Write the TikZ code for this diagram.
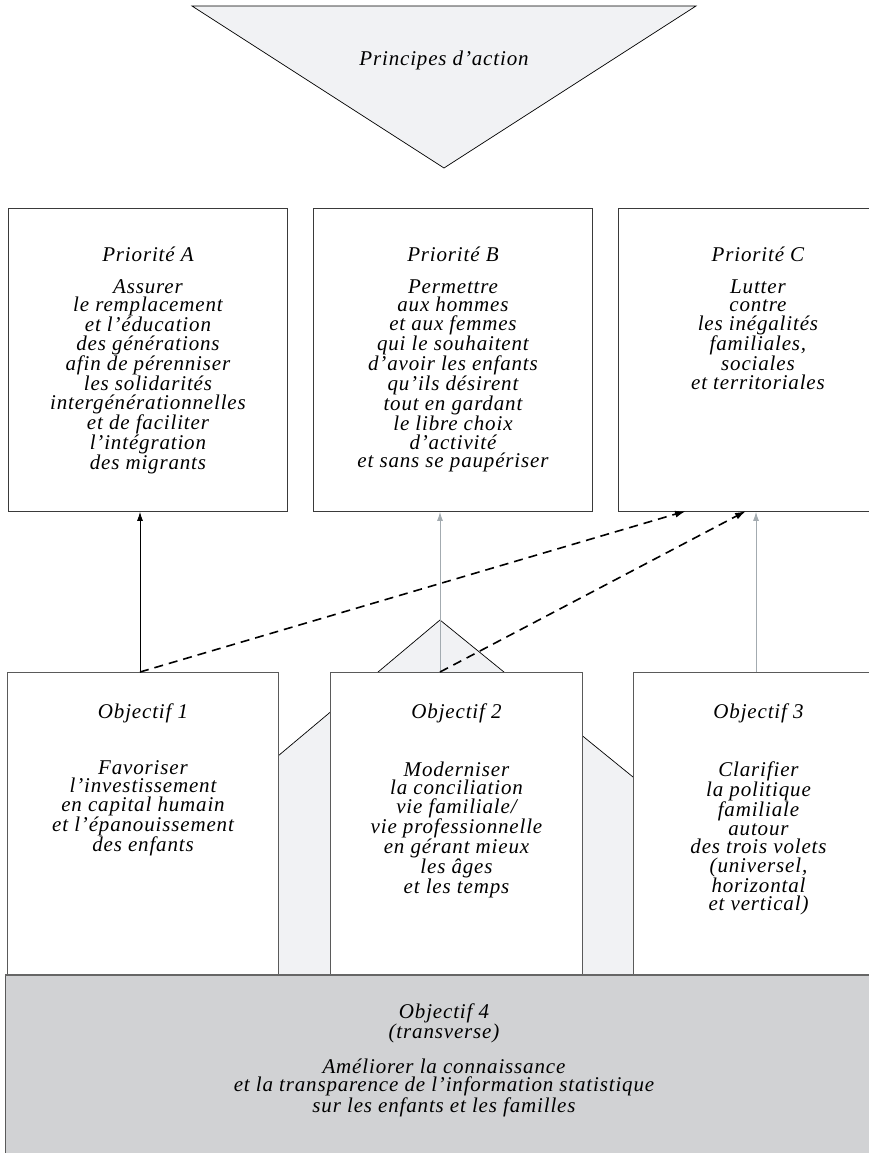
\documentclass[tikz,border=0pt]{standalone}
\usepackage{fontspec}
\setmainfont{Liberation Serif}[LetterSpace=4]
\usetikzlibrary{arrows.meta,positioning}

\definecolor{lightfill}{HTML}{F1F2F4}
\definecolor{darkfill}{HTML}{D1D2D4}
\definecolor{arrowgray}{HTML}{A3ABB0}
\definecolor{boxline}{HTML}{3A3A3A}
\definecolor{objline}{HTML}{5A5A5A}

\tikzset{
  prio/.style={draw=boxline, fill=white, line width=0.9pt, inner sep=0pt,
    anchor=north west, minimum width=279pt, minimum height=303pt},
  obj/.style={draw=objline, fill=white, line width=1pt, inner sep=0pt,
    anchor=north west, minimum height=302pt},
  txt/.style={font=\fontsize{21}{18.5}\selectfont\itshape, align=center,
    inner sep=0pt, anchor=north},
  blackarrow/.style={-{Latex[length=9pt,width=6pt]}, line width=0.8pt},
  grayarrow/.style={-{Latex[length=9pt,width=6pt]}, draw=arrowgray, line width=0.9pt},
  dasharrow/.style={-{Latex[length=11pt,width=7pt]}, line width=1.6pt,
    dash pattern=on 9pt off 6pt}
}

\begin{document}
\begin{tikzpicture}[x=1pt,y=-1pt]
  \useasboundingbox (0,0) rectangle (869,1153);
  \clip (0,0) rectangle (869,1153);

  % principes
  \draw[fill=lightfill, line width=0.7pt] (192,6) -- (696,6) -- (444,168) -- cycle;
  \node[txt, anchor=center] (princ) at (444,60) {Principes d’action};

  % priorites
  \node[prio] (pA) at (8,208) {};
  \node[prio] (pB) at (313,208) {};
  \node[prio] (pC) at (618,208) {};
  \node[txt] (tA) at (pA.north |- 0,247) {Priorité A\\[13pt]
    Assurer\\ le remplacement\\ et l’éducation\\ des générations\\
    afin de pérenniser\\ les solidarités\\ intergénérationnelles\\
    et de faciliter\\ l’intégration\\ des migrants};
  \node[txt] (tB) at (pB.north |- 0,247) {Priorité B\\[13pt]
    Permettre\\ aux hommes\\ et aux femmes\\ qui le souhaitent\\
    d’avoir les enfants\\ qu’ils désirent\\ tout en gardant\\
    le libre choix\\ d’activité\\ et sans se paupériser};
  \node[txt] (tC) at (pC.north |- 0,247) {Priorité C\\[13pt]
    Lutter\\ contre\\ les inégalités\\ familiales,\\ sociales\\
    et territoriales};

  % maison
  \fill[lightfill] (278,974) -- (278,756) -- (440,620) -- (633,777) -- (633,974) -- cycle;
  \draw[line width=0.7pt] (278,756) -- (440,620) -- (633,777);

  % objectifs
  \node[obj, minimum width=271pt] (o1) at (7,672) {};
  \node[obj, minimum width=252pt] (o2) at (330,672) {};
  \node[obj, minimum width=250pt] (o3) at (633,672) {};
  \node[txt] (t1) at (o1.north |- 0,704) {Objectif 1\\[37pt]
    Favoriser\\ l’investissement\\ en capital humain\\
    et l’épanouissement\\ des enfants};
  \node[txt] (t2) at (o2.north |- 0,704) {Objectif 2\\[37pt]
    Moderniser\\ la conciliation\\ vie familiale/\\
    vie professionnelle\\ en gérant mieux\\ les âges\\ et les temps};
  \node[txt] (t3) at (o3.north |- 0,704) {Objectif 3\\[37pt]
    Clarifier\\ la politique\\ familiale\\ autour\\ des trois volets\\
    (universel,\\ horizontal\\ et vertical)};

  % liens
  \coordinate (o1a) at (140,672);
  \coordinate (o2a) at (440,672);
  \coordinate (o3a) at (756,672);
  \coordinate (cA) at (686,511);
  \coordinate (cB) at (746,511);
  \draw[grayarrow] (o2a) -- (o2a |- pB.south);
  \draw[grayarrow] (o3a) -- (o3a |- pC.south);
  \draw[blackarrow] (o1a) -- (o1a |- pA.south);
  \draw[dasharrow] (o1a) -- (cA);
  \draw[dasharrow] (o2a) -- (cB);

  % objectif 4
  \node[fill=darkfill, inner sep=0pt, anchor=north west,
    minimum width=880pt, minimum height=190pt] (o4) at (5,975) {};
  \draw[objline, line width=0.8pt] (o4.north west) -- (o4.south west);
  \draw[black!60, line width=2pt] (o4.north west) -- (o4.north east);
  \node[txt, anchor=center] (t4) at (444,1060) {Objectif 4\\ (transverse)\\[15pt]
    Améliorer la connaissance\\
    et la transparence de l’information statistique\\
    sur les enfants et les familles};
\end{tikzpicture}
\end{document}
